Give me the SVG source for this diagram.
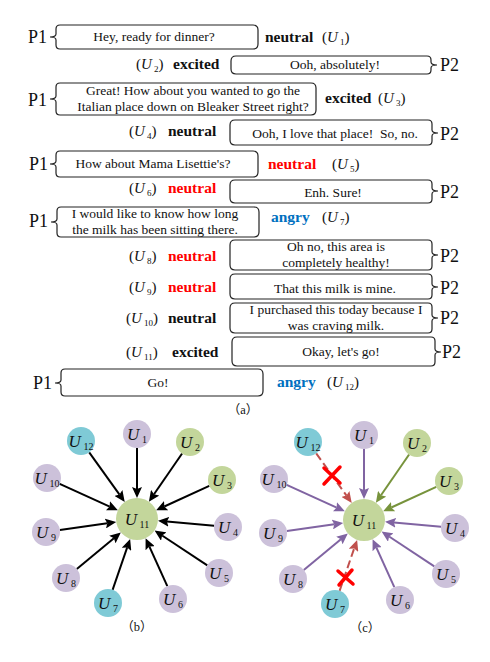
<svg xmlns="http://www.w3.org/2000/svg" width="490" height="662" viewBox="0 0 490 662">
<defs>
<style>
.bx{fill:#fff;stroke:#222;stroke-width:1.2}
.t{font-family:"Liberation Serif","Times New Roman",serif;font-size:13.5px;fill:#111;text-anchor:middle}
.p{font-family:"Liberation Serif","Times New Roman",serif;font-size:18px;fill:#111}
.e{font-family:"Liberation Serif","Times New Roman",serif;font-size:15.5px;font-weight:bold;fill:#111}
.red{fill:#ff0000}
.blue{fill:#0070c0}
.u{font-family:"Liberation Serif","Times New Roman",serif;font-size:15px;fill:#111}
.i{font-style:italic}
.s{font-size:9px}
.cap{font-family:"Liberation Serif","Noto Sans CJK SC",serif;font-size:12.5px;fill:#111;text-anchor:middle}
.pu{fill:#ccc1da}
.gr{fill:#c3d69b}
.cy{fill:#7fcad6}
.nl{font-family:"Liberation Serif","Times New Roman",serif;font-size:17px;font-style:italic;fill:#111;text-anchor:middle}
.ns{font-size:10px;font-style:normal}
.k{stroke:#000;stroke-width:2;fill:none;marker-end:url(#ak)}
.pl{stroke:#8064a2;stroke-width:2;fill:none;marker-end:url(#ap)}
.gl{stroke:#77933c;stroke-width:2;fill:none;marker-end:url(#ag)}
.rl{stroke:#c0504d;stroke-width:2;fill:none;stroke-dasharray:8 4;marker-end:url(#ar)}
.x{stroke:#ff0000;stroke-width:3.5;stroke-linecap:round;fill:none}
</style>
<marker id="ak" markerUnits="userSpaceOnUse" markerWidth="11" markerHeight="10" viewBox="0 0 11 10" refX="2" refY="5" orient="auto"><path d="M0,0 L11,5 L0,10 L2,5 Z" fill="#000"/></marker>
<marker id="ap" markerUnits="userSpaceOnUse" markerWidth="11" markerHeight="10" viewBox="0 0 11 10" refX="2" refY="5" orient="auto"><path d="M0,0 L11,5 L0,10 L2,5 Z" fill="#8064a2"/></marker>
<marker id="ag" markerUnits="userSpaceOnUse" markerWidth="11" markerHeight="10" viewBox="0 0 11 10" refX="2" refY="5" orient="auto"><path d="M0,0 L11,5 L0,10 L2,5 Z" fill="#77933c"/></marker>
<marker id="ar" markerUnits="userSpaceOnUse" markerWidth="11" markerHeight="10" viewBox="0 0 11 10" refX="2" refY="5" orient="auto"><path d="M0,0 L11,5 L0,10 L2,5 Z" fill="#c0504d"/></marker>
</defs>

<g id="dialogue">
<g id="row-u1">
<path class="bx" d="M60,25 H253 Q258,25 258,30 V44 Q258,49 253,49 H60 Q56,49 56,45 V40 Q56,37 50,37 Q56,37 56,34 V29 Q56,25 60,25 Z"/>
<text class="t" x="154" y="41">Hey, ready for dinner?</text>
<text class="p" x="28" y="43">P1</text>
<text class="e" x="265" y="42">neutral</text>
<text class="u" x="322" y="42">(<tspan class="i">U</tspan><tspan class="s" dy="3"> 1</tspan><tspan dy="-3">)</tspan></text>
</g>
<g id="row-u2">
<path class="bx" d="M427,56 H236 Q231,56 231,61 V69 Q231,74 236,74 H427 Q431,74 431,70 V68 Q431,65 437,65 Q431,65 431,62 V60 Q431,56 427,56 Z"/>
<text class="t" x="335" y="69">Ooh, absolutely!</text>
<text class="p" x="440" y="71">P2</text>
<text class="e" x="173" y="69">excited</text>
<text class="u" x="136" y="69">(<tspan class="i">U</tspan><tspan class="s" dy="3"> 2</tspan><tspan dy="-3">)</tspan></text>
</g>
<g id="row-u3">
<path class="bx" d="M60,83 H311 Q316,83 316,88 V110 Q316,115 311,115 H60 Q56,115 56,111 V102 Q56,99 50,99 Q56,99 56,96 V87 Q56,83 60,83 Z"/>
<text class="t" x="193" y="95">Great! How about you wanted to go the</text>
<text class="t" x="193" y="111">Italian place down on Bleaker Street right?</text>
<text class="p" x="28" y="106">P1</text>
<text class="e" x="325" y="103">excited</text>
<text class="u" x="378" y="103">(<tspan class="i">U</tspan><tspan class="s" dy="3"> 3</tspan><tspan dy="-3">)</tspan></text>
</g>
<g id="row-u4">
<path class="bx" d="M428,120 H235 Q230,120 230,125 V140 Q230,145 235,145 H428 Q432,145 432,141 V136 Q432,133 438,133 Q432,133 432,130 V124 Q432,120 428,120 Z"/>
<text class="t" x="335" y="138" xml:space="preserve">Ooh, I love that place!  So, no.</text>
<text class="p" x="440" y="140">P2</text>
<text class="e" x="168" y="136">neutral</text>
<text class="u" x="129" y="136">(<tspan class="i">U</tspan><tspan class="s" dy="3"> 4</tspan><tspan dy="-3">)</tspan></text>
</g>
<g id="row-u5">
<path class="bx" d="M60,151 H253 Q258,151 258,156 V172 Q258,177 253,177 H60 Q56,177 56,173 V167 Q56,164 50,164 Q56,164 56,161 V155 Q56,151 60,151 Z"/>
<text class="t" x="153" y="168">How about Mama Lisettie's?</text>
<text class="p" x="29" y="170">P1</text>
<text class="e red" x="268" y="169">neutral</text>
<text class="u" x="332" y="169">(<tspan class="i">U</tspan><tspan class="s" dy="3"> 5</tspan><tspan dy="-3">)</tspan></text>
</g>
<g id="row-u6">
<path class="bx" d="M428,180 H235 Q230,180 230,185 V198 Q230,203 235,203 H428 Q432,203 432,199 V194 Q432,191 438,191 Q432,191 432,188 V184 Q432,180 428,180 Z"/>
<text class="t" x="333" y="197">Enh. Sure!</text>
<text class="p" x="440" y="198">P2</text>
<text class="e red" x="168" y="193">neutral</text>
<text class="u" x="129" y="193">(<tspan class="i">U</tspan><tspan class="s" dy="3"> 6</tspan><tspan dy="-3">)</tspan></text>
</g>
<g id="row-u7">
<path class="bx" d="M61,207 H254 Q259,207 259,212 V232 Q259,237 254,237 H61 Q57,237 57,233 V225 Q57,222 51,222 Q57,222 57,219 V211 Q57,207 61,207 Z"/>
<text class="t" x="155" y="218">I would like to know how long</text>
<text class="t" x="155" y="234">the milk has been sitting there.</text>
<text class="p" x="29" y="227">P1</text>
<text class="e blue" x="271" y="222">angry</text>
<text class="u" x="322" y="222">(<tspan class="i">U</tspan><tspan class="s" dy="3"> 7</tspan><tspan dy="-3">)</tspan></text>
</g>
<g id="row-u8">
<path class="bx" d="M428,240 H235 Q230,240 230,245 V265 Q230,270 235,270 H428 Q432,270 432,266 V258 Q432,255 438,255 Q432,255 432,252 V244 Q432,240 428,240 Z"/>
<text class="t" x="336" y="251">Oh no, this area is</text>
<text class="t" x="336" y="267">completely healthy!</text>
<text class="p" x="440" y="262">P2</text>
<text class="e red" x="168" y="261">neutral</text>
<text class="u" x="129" y="261">(<tspan class="i">U</tspan><tspan class="s" dy="3"> 8</tspan><tspan dy="-3">)</tspan></text>
</g>
<g id="row-u9">
<path class="bx" d="M428,274 H235 Q230,274 230,279 V294 Q230,299 235,299 H428 Q432,299 432,295 V290 Q432,287 438,287 Q432,287 432,284 V278 Q432,274 428,274 Z"/>
<text class="t" x="335" y="293">That this milk is mine.</text>
<text class="p" x="440" y="294">P2</text>
<text class="e red" x="168" y="292">neutral</text>
<text class="u" x="129" y="292">(<tspan class="i">U</tspan><tspan class="s" dy="3"> 9</tspan><tspan dy="-3">)</tspan></text>
</g>
<g id="row-u10">
<path class="bx" d="M428,303 H235 Q230,303 230,308 V328 Q230,333 235,333 H428 Q432,333 432,329 V321 Q432,318 438,318 Q432,318 432,315 V307 Q432,303 428,303 Z"/>
<text class="t" x="336" y="314">I purchased this today because I</text>
<text class="t" x="336" y="330">was craving milk.</text>
<text class="p" x="440" y="324">P2</text>
<text class="e" x="168" y="323">neutral</text>
<text class="u" x="126" y="323">(<tspan class="i">U</tspan><tspan class="s" dy="3"> 10</tspan><tspan dy="-3">)</tspan></text>
</g>
<g id="row-u11">
<path class="bx" d="M431,337 H237 Q232,337 232,342 V361 Q232,366 237,366 H431 Q435,366 435,362 V355 Q435,352 441,352 Q435,352 435,349 V341 Q435,337 431,337 Z"/>
<text class="t" x="341" y="356">Okay, let's go!</text>
<text class="p" x="442" y="358">P2</text>
<text class="e" x="172" y="357">excited</text>
<text class="u" x="126" y="357">(<tspan class="i">U</tspan><tspan class="s" dy="3"> 11</tspan><tspan dy="-3">)</tspan></text>
</g>
<g id="row-u12">
<path class="bx" d="M65,369 H258 Q263,369 263,374 V391 Q263,396 258,396 H65 Q61,396 61,392 V386 Q61,383 55,383 Q61,383 61,380 V373 Q61,369 65,369 Z"/>
<text class="t" x="158" y="387">Go!</text>
<text class="p" x="33" y="389">P1</text>
<text class="e blue" x="277" y="387">angry</text>
<text class="u" x="327" y="387">(<tspan class="i">U</tspan><tspan class="s" dy="3"> 12</tspan><tspan dy="-3">)</tspan></text>
</g>
<text class="cap" x="243" y="414">（a）</text>
</g>

<g id="connectors-b">
<line class="k" x1="137" y1="448" x2="137" y2="489"/>
<line class="k" x1="182.1" y1="453.5" x2="154" y2="494.3"/>
<line class="k" x1="89.2" y1="452.4" x2="119.5" y2="494.6"/>
<line class="k" x1="209.3" y1="485.8" x2="164.3" y2="506.5"/>
<line class="k" x1="59.7" y1="483.8" x2="109.7" y2="506.6"/>
<line class="k" x1="214.1" y1="525.8" x2="166.9" y2="521.6"/>
<line class="k" x1="59.9" y1="530" x2="107.3" y2="523.2"/>
<line class="k" x1="207.3" y1="565.3" x2="162.1" y2="535.5"/>
<line class="k" x1="76.8" y1="569.1" x2="113.9" y2="538.2"/>
<line class="k" x1="112.6" y1="589.8" x2="127.2" y2="547.4"/>
<line class="k" x1="167.3" y1="586.2" x2="149.3" y2="546.4"/>
</g>

<g id="graph-b">
<g id="b-u11"><circle class="gr" cx="137" cy="519" r="21"/><text class="nl" x="137" y="525">U<tspan class="ns" dy="3"> 11</tspan></text></g>
<g id="b-u1"><circle class="pu" cx="137" cy="434" r="14"/><text class="nl" x="137" y="440">U<tspan class="ns" dy="3"> 1</tspan></text></g>
<g id="b-u2"><circle class="gr" cx="190" cy="442" r="14"/><text class="nl" x="190" y="448">U<tspan class="ns" dy="3"> 2</tspan></text></g>
<g id="b-u3"><circle class="gr" cx="222" cy="480" r="14"/><text class="nl" x="222" y="486">U<tspan class="ns" dy="3"> 3</tspan></text></g>
<g id="b-u4"><circle class="pu" cx="228" cy="527" r="14"/><text class="nl" x="228" y="533">U<tspan class="ns" dy="3"> 4</tspan></text></g>
<g id="b-u5"><circle class="pu" cx="219" cy="573" r="14"/><text class="nl" x="219" y="579">U<tspan class="ns" dy="3"> 5</tspan></text></g>
<g id="b-u6"><circle class="pu" cx="173" cy="599" r="14"/><text class="nl" x="173" y="605">U<tspan class="ns" dy="3"> 6</tspan></text></g>
<g id="b-u7"><circle class="cy" cx="108" cy="603" r="14"/><text class="nl" x="108" y="609">U<tspan class="ns" dy="3"> 7</tspan></text></g>
<g id="b-u8"><circle class="pu" cx="66" cy="578" r="14"/><text class="nl" x="66" y="584">U<tspan class="ns" dy="3"> 8</tspan></text></g>
<g id="b-u9"><circle class="pu" cx="46" cy="532" r="14"/><text class="nl" x="46" y="538">U<tspan class="ns" dy="3"> 9</tspan></text></g>
<g id="b-u10"><circle class="pu" cx="47" cy="478" r="14"/><text class="nl" x="47" y="484">U<tspan class="ns" dy="3"> 10</tspan></text></g>
<g id="b-u12"><circle class="cy" cx="81" cy="441" r="14"/><text class="nl" x="81" y="447">U<tspan class="ns" dy="3"> 12</tspan></text></g>
<text class="cap" x="137" y="631">（b）</text>
</g>

<g id="connectors-c">
<line class="pl" x1="364" y1="449" x2="364" y2="490"/>
<line class="gl" x1="409.1" y1="454.5" x2="381" y2="495.3"/>
<line class="rl" x1="316.2" y1="453.4" x2="346.5" y2="495.6"/>
<line class="gl" x1="436.3" y1="486.8" x2="391.3" y2="507.5"/>
<line class="pl" x1="286.7" y1="484.8" x2="336.7" y2="507.6"/>
<line class="pl" x1="441.1" y1="526.8" x2="393.9" y2="522.6"/>
<line class="pl" x1="286.9" y1="531" x2="334.3" y2="524.2"/>
<line class="pl" x1="434.3" y1="566.3" x2="389.1" y2="536.5"/>
<line class="pl" x1="303.8" y1="570.1" x2="340.9" y2="539.2"/>
<line class="rl" x1="339.6" y1="590.8" x2="354.2" y2="548.4"/>
<line class="pl" x1="394.3" y1="587.2" x2="376.3" y2="547.4"/>
<path class="x" d="M324,468 L340,483 M340,467 L324,484"/>
<path class="x" d="M338,571 L353,584 M352,570 L339,585"/>
</g>

<g id="graph-c">
<g id="c-u11"><circle class="gr" cx="364" cy="520" r="21"/><text class="nl" x="364" y="526">U<tspan class="ns" dy="3"> 11</tspan></text></g>
<g id="c-u1"><circle class="pu" cx="364" cy="435" r="14"/><text class="nl" x="364" y="441">U<tspan class="ns" dy="3"> 1</tspan></text></g>
<g id="c-u2"><circle class="gr" cx="417" cy="443" r="14"/><text class="nl" x="417" y="449">U<tspan class="ns" dy="3"> 2</tspan></text></g>
<g id="c-u3"><circle class="gr" cx="449" cy="481" r="14"/><text class="nl" x="449" y="487">U<tspan class="ns" dy="3"> 3</tspan></text></g>
<g id="c-u4"><circle class="pu" cx="455" cy="528" r="14"/><text class="nl" x="455" y="534">U<tspan class="ns" dy="3"> 4</tspan></text></g>
<g id="c-u5"><circle class="pu" cx="446" cy="574" r="14"/><text class="nl" x="446" y="580">U<tspan class="ns" dy="3"> 5</tspan></text></g>
<g id="c-u6"><circle class="pu" cx="400" cy="600" r="14"/><text class="nl" x="400" y="606">U<tspan class="ns" dy="3"> 6</tspan></text></g>
<g id="c-u7"><circle class="cy" cx="335" cy="604" r="14"/><text class="nl" x="335" y="610">U<tspan class="ns" dy="3"> 7</tspan></text></g>
<g id="c-u8"><circle class="pu" cx="293" cy="579" r="14"/><text class="nl" x="293" y="585">U<tspan class="ns" dy="3"> 8</tspan></text></g>
<g id="c-u9"><circle class="pu" cx="273" cy="533" r="14"/><text class="nl" x="273" y="539">U<tspan class="ns" dy="3"> 9</tspan></text></g>
<g id="c-u10"><circle class="pu" cx="274" cy="479" r="14"/><text class="nl" x="274" y="485">U<tspan class="ns" dy="3"> 10</tspan></text></g>
<g id="c-u12"><circle class="cy" cx="308" cy="442" r="14"/><text class="nl" x="308" y="448">U<tspan class="ns" dy="3"> 12</tspan></text></g>
<text class="cap" x="365" y="632">（c）</text>
</g>
</svg>
